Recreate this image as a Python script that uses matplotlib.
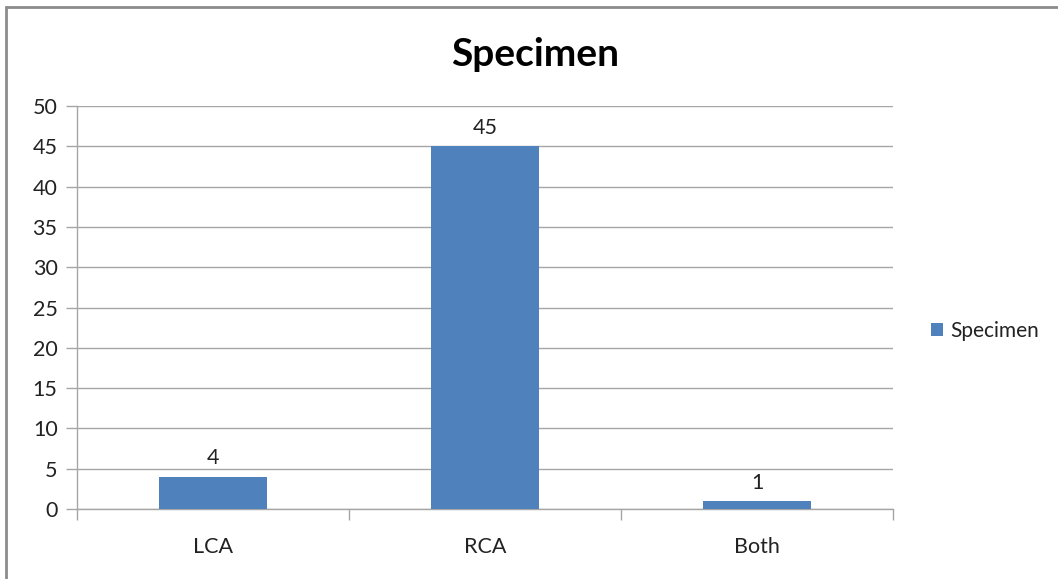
import matplotlib
matplotlib.use("Agg")
import matplotlib.pyplot as plt
from matplotlib.patches import Rectangle

categories = ["LCA", "RCA", "Both"]
counts = [4, 45, 1]
series_name = "Specimen"
y_ticks = [0, 5, 10, 15, 20, 25, 30, 35, 40, 45, 50]

BAR = "#4F81BD"
GRID = "#A6A6A6"
TEXT = "#222222"
FS = 15.5

plt.rcParams["font.family"] = ["Lato", "DejaVu Sans"]

fig = plt.figure(figsize=(10.58, 5.79), dpi=100)
ax = fig.add_axes([77 / 1058, 1 - 509 / 579, (893 - 77) / 1058, (509 - 106) / 579])

x = list(range(len(categories)))
bars = ax.bar(x, counts, width=0.4, color=BAR, label=series_name, zorder=3)
for xi, v in zip(x, counts):
    ax.annotate(str(v), (xi, v), xytext=(0, 6), textcoords="offset points",
                ha="center", va="bottom", fontsize=FS, color=TEXT)

ax.set_xlim(-0.5, len(categories) - 0.5)
ax.set_ylim(0, 50)
ax.set_yticks(y_ticks)
ax.set_yticklabels([str(t) for t in y_ticks], fontsize=FS, color=TEXT)
ax.yaxis.grid(True, color=GRID, linewidth=1, zorder=0)
ax.set_axisbelow(True)

# category labels centred, tick marks on category boundaries
ax.set_xticks(x)
ax.set_xticklabels(categories, fontsize=FS, color=TEXT)
ax.tick_params(axis="x", which="major", length=0, pad=20)
ax.set_xticks([i - 0.5 for i in range(len(categories) + 1)], minor=True)
ax.tick_params(axis="x", which="minor", length=8, color=GRID, width=1, direction="out")
ax.tick_params(axis="y", length=8, color=GRID, width=1, pad=6)

for side in ("top", "right"):
    ax.spines[side].set_visible(False)
for side in ("left", "bottom"):
    ax.spines[side].set_color(GRID)
    ax.spines[side].set_linewidth(1)

fig.text(535 / 1058, 1 - 55 / 579, "Specimen", ha="center", va="center",
         fontsize=28, fontweight="bold", color="black")

leg = fig.legend(handles=[bars], labels=[series_name], loc="center left",
                 bbox_to_anchor=(912 / 1058, 1 - 331 / 579), frameon=False,
                 fontsize=15, handlelength=0.6, handleheight=0.6, handletextpad=0.35)
for t in leg.get_texts():
    t.set_color(TEXT)

# outer chart border
fig.patches.append(Rectangle((6 / 1058, -0.05), 1.1, 1 - 7 / 579 + 0.05,
                             transform=fig.transFigure, fill=False,
                             edgecolor="#8C8C8C", linewidth=2))

fig.savefig("out.png", dpi=100)
